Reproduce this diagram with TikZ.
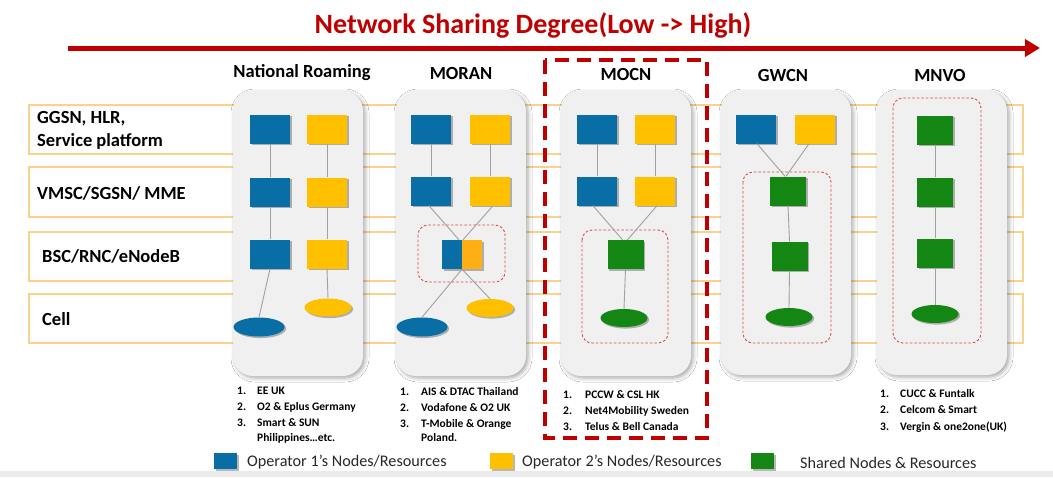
\documentclass[tikz,border=0pt]{standalone}
\usepackage{fontspec}
\setmainfont{Carlito}
\usetikzlibrary{arrows.meta,shapes.geometric,shadows,shadows.blur,calc}

\definecolor{opblue}{RGB}{8,110,165}
\definecolor{opyellow}{RGB}{255,192,0}
\definecolor{oporange}{RGB}{255,174,20}
\definecolor{shgreen}{RGB}{19,134,19}
\definecolor{cardgray}{RGB}{240,240,240}
\definecolor{bandline}{RGB}{250,210,140}
\definecolor{linkgray}{RGB}{160,160,160}
\definecolor{darkred}{RGB}{192,0,0}
\definecolor{grpred}{RGB}{222,70,70}
\definecolor{legtext}{RGB}{40,40,40}

\tikzset{
  band/.style={draw=bandline, line width=1.1pt, fill=white},
  card/.style={rounded corners=20pt, fill=cardgray,
    blur shadow={shadow xshift=2pt, shadow yshift=-2pt, shadow blur radius=4pt, shadow opacity=35}},
  boxshadow/.style={drop shadow={shadow xshift=1.6pt, shadow yshift=-1.6pt, fill=black, opacity=0.28}},
  nodebox/.style={rectangle, inner sep=0pt, minimum width=40pt, minimum height=29pt, boxshadow},
  greenbox/.style={rectangle, inner sep=0pt, minimum width=36pt, minimum height=29pt, fill=shgreen, boxshadow},
  opone/.style={nodebox, fill=opblue},
  optwo/.style={nodebox, fill=opyellow},
  cellone/.style={ellipse, inner sep=0pt, minimum width=51pt, minimum height=19pt, fill=opblue, boxshadow},
  celltwo/.style={ellipse, inner sep=0pt, minimum width=47pt, minimum height=18pt, fill=opyellow, boxshadow},
  cellshared/.style={ellipse, inner sep=0pt, minimum width=47pt, minimum height=18pt, fill=shgreen, boxshadow},
  link/.style={draw=linkgray, line width=0.9pt},
  sharedgroup/.style={draw=grpred, dashed, dash pattern=on 2.5pt off 2pt, line width=0.9pt, rounded corners=10pt},
  hdr/.style={font=\fontsize{18.5}{20}\selectfont\bfseries},
  rowlbl/.style={font=\fontsize{18.5}{23}\selectfont\bfseries, anchor=west, align=left, inner sep=0pt},
  listnum/.style={font=\fontsize{11.5}{13}\selectfont\bfseries, anchor=west, inner sep=0pt},
  legsq/.style={rectangle, inner sep=0pt, minimum width=23pt, minimum height=16pt, boxshadow},
  legtxt/.style={font=\fontsize{16.2}{18}\selectfont, text=legtext, anchor=west, inner sep=0pt},
}

\begin{document}
\begin{tikzpicture}[x=1pt, y=-1pt]
\useasboundingbox (0,0) rectangle (1053,477);
\fill[white] (0,0) rectangle (1053,477);
\fill[black!8] (0,471) rectangle (1053,477);

% title and sharing-degree arrow
\node[text=darkred, font=\fontsize{28}{32}\selectfont\bfseries] (title) at (533,25) {Network Sharing Degree(Low -> High)};
\coordinate (arrS) at (68,48);
\coordinate (arrE) at (1040,48);
\draw[darkred, line width=5pt, -{Triangle[length=15pt, width=17pt]}] (arrS) -- (arrE);

% layer bands
\draw[band] (29,105) rectangle (1023,154);
\draw[band] (29,167) rectangle (1023,217);
\draw[band] (29,232) rectangle (1023,281);
\draw[band] (29,294) rectangle (1023,343);

\node[rowlbl] (lblcore) at (37,130.5) {GGSN, HLR,\\Service platform};
\node[rowlbl] (lblmsc) at (37,193) {VMSC/SGSN/ MME};
\node[rowlbl] (lblbsc) at (42,256) {BSC/RNC/eNodeB};
\node[rowlbl] (lblcell) at (42,319) {Cell};

% column cards
\fill[card] (233,91) rectangle (363,376);
\fill[card] (396,91) rectangle (526,376);
\fill[card] (561,91) rectangle (691,376);
\fill[card] (721,91) rectangle (851,375);
\fill[card] (877,91) rectangle (1007,375);

% column headers
\node[hdr] (hNR) at (302,73) {National Roaming};
\node[hdr] (hMORAN) at (461,73) {MORAN};
\node[hdr] (hMOCN) at (626,74) {MOCN};
\node[hdr] (hGWCN) at (783,75) {GWCN};
\node[hdr] (hMNVO) at (940,75) {MNVO};

% ---- National Roaming
\node[opone] (nrB1) at (270,129) {};
\node[optwo] (nrY1) at (327,129) {};
\node[opone] (nrB2) at (270,192) {};
\node[optwo] (nrY2) at (327,192) {};
\node[opone] (nrB3) at (270,254) {};
\node[optwo] (nrY3) at (327,254) {};
\node[cellone] (nrBc) at (259,327) {};
\node[celltwo] (nrYc) at (328,307.5) {};
\draw[link] (nrB1.south) -- (nrB2.north);
\draw[link] (nrB2.south) -- (nrB3.north);
\draw[link] (nrB3.south) -- (nrBc.north);
\draw[link] (nrY1.south) -- (nrY2.north);
\draw[link] (nrY2.south) -- (nrY3.north);
\draw[link] (nrY3.south) -- (nrYc.north);

% ---- MORAN
\node[opone] (moB1) at (431,129) {};
\node[optwo] (moY1) at (490,129) {};
\node[opone] (moB2) at (431,191) {};
\node[optwo] (moY2) at (490,191) {};
\draw[sharedgroup] (418,225) rectangle (505,282);
\node[nodebox, minimum width=40pt, path picture={
    \fill[opblue] (path picture bounding box.north west) rectangle (path picture bounding box.south);
    \fill[oporange] (path picture bounding box.north) rectangle (path picture bounding box.south east);
  }] (moMix) at (462,254.5) {};
\node[cellone] (moBc) at (422,327) {};
\node[celltwo] (moYc) at (490,308) {};
\draw[link] (moB1.south) -- (moB2.north);
\draw[link] (moY1.south) -- (moY2.north);
\draw[link] ($(moB2.south)+(-2,0)$) -- ($(moMix.north)+(-3,0)$);
\draw[link] ($(moY2.south)+(3,0)$) -- ($(moMix.north)+(1,0)$);
\draw[link] (moMix.south) -- (moBc.north);
\draw[link] (moMix.south) -- (moYc.north);

% ---- MOCN
\node[opone] (mcB1) at (597,129) {};
\node[optwo] (mcY1) at (655,129) {};
\node[opone] (mcB2) at (597,191) {};
\node[optwo] (mcY2) at (655,191) {};
\draw[sharedgroup] (582,230) rectangle (668,343);
\node[greenbox] (mcG) at (625.5,254.5) {};
\node[cellshared] (mcGc) at (624,318) {};
\draw[link] (mcB1.south) -- (mcB2.north);
\draw[link] (mcY1.south) -- (mcY2.north);
\draw[link] ($(mcB2.south)+(-4,0)$) -- ($(mcG.north)+(-3,0)$);
\draw[link] ($(mcY2.south)+(2,0)$) -- ($(mcG.north)+(2,0)$);
\draw[link] (mcG.south) -- (mcGc.north);

% ---- GWCN
\node[opone] (gwB1) at (756,129) {};
\node[optwo] (gwY1) at (815,129) {};
\draw[sharedgroup] (743,172) rectangle (831,343);
\node[greenbox] (gwG2) at (788,191) {};
\node[greenbox] (gwG3) at (789.5,256) {};
\node[cellshared] (gwGc) at (789,317) {};
\draw[link] ($(gwB1.south)+(1,0)$) -- ($(gwG2.north)+(-3,0)$);
\draw[link] ($(gwY1.south)+(-6,0)$) -- ($(gwG2.north)+(-2,0)$);
\draw[link] (gwG2.south) -- (gwG3.north);
\draw[link] (gwG3.south) -- (gwGc.north);

% ---- MNVO
\draw[sharedgroup] (893,98) rectangle (981,343);
\node[greenbox] (mvG1) at (935,130) {};
\node[greenbox] (mvG2) at (935,192) {};
\node[greenbox] (mvG3) at (935,253) {};
\node[cellshared] (mvGc) at (935,314) {};
\draw[link] (mvG1.south) -- (mvG2.north);
\draw[link] (mvG2.south) -- (mvG3.north);
\draw[link] (mvG3.south) -- (mvGc.north);

% MOCN highlight frame
\draw[darkred, line width=3.5pt, dash pattern=on 14pt off 8pt] (545,60) rectangle (707,438);

% example operators
\node[listnum] (nrn1) at (237,391) {1.};
\node[listnum] (nrt1) at (257,391) {EE UK};
\node[listnum] (nrn2) at (237,407) {2.};
\node[listnum] (nrt2) at (257,407) {O2 \& Eplus Germany};
\node[listnum] (nrn3) at (237,423) {3.};
\node[listnum] (nrt3) at (257,423) {Smart \& SUN};
\node[listnum] (nrt4) at (257,438) {Philippines…etc.};

\node[listnum] (mon1) at (400,392) {1.};
\node[listnum] (mot1) at (421,392) {AIS \& DTAC Thailand};
\node[listnum] (mon2) at (400,408) {2.};
\node[listnum] (mot2) at (421,408) {Vodafone \& O2 UK};
\node[listnum] (mon3) at (400,424) {3.};
\node[listnum] (mot3) at (421,424) {T-Mobile \& Orange};
\node[listnum] (mot4) at (421,438) {Poland.};

\node[listnum] (mcn1) at (563,395) {1.};
\node[listnum] (mct1) at (585,395) {PCCW \& CSL HK};
\node[listnum] (mcn2) at (563,411) {2.};
\node[listnum] (mct2) at (585,411) {Net4Mobility Sweden};
\node[listnum] (mcn3) at (563,427) {3.};
\node[listnum] (mct3) at (585,427) {Telus \& Bell Canada};

\node[listnum] (mvn1) at (880,394) {1.};
\node[listnum] (mvt1) at (900,394) {CUCC \& Funtalk};
\node[listnum] (mvn2) at (880,410) {2.};
\node[listnum] (mvt2) at (900,410) {Celcom \& Smart};
\node[listnum] (mvn3) at (880,427) {3.};
\node[listnum] (mvt3) at (900,427) {Vergin \& one2one(UK)};

% legend
\node[legsq, fill=opblue] (lg1) at (225.5,461) {};
\node[legtxt] (lgt1) at (247,462) {Operator 1’s Nodes/Resources};
\node[legsq, fill=opyellow] (lg2) at (501.5,461) {};
\node[legtxt] (lgt2) at (522,462) {Operator 2’s Nodes/Resources};
\node[legsq, fill=shgreen] (lg3) at (762.5,461) {};
\node[legtxt] (lgt3) at (800,463) {Shared Nodes \& Resources};
\end{tikzpicture}
\end{document}
